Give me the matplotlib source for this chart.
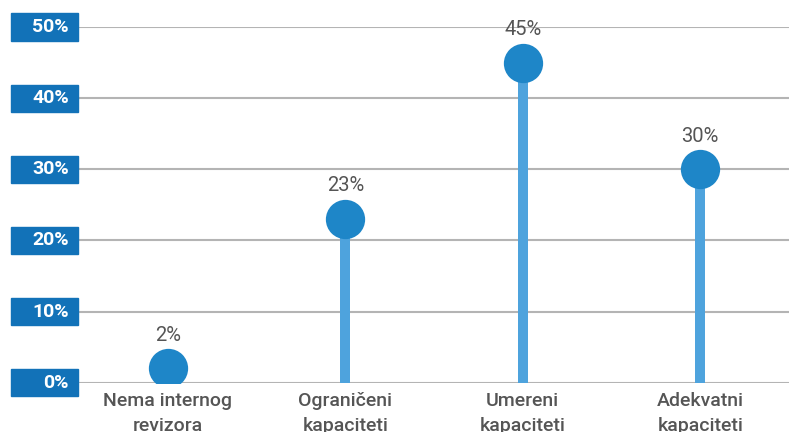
import matplotlib.pyplot as plt
from matplotlib.patches import Rectangle

plt.rcParams['font.family'] = ['Roboto', 'DejaVu Sans']

# kapaciteti interne revizije
kategorije = ['Nema internog\nrevizora', 'Ograničeni\nkapaciteti',
              'Umereni\nkapaciteti', 'Adekvatni\nkapaciteti']
procenti = [2, 23, 45, 30]
yticks = [0, 10, 20, 30, 40, 50]

stem_boja = '#4ea3dd'
krug_boja = '#1e86c8'
box_boja = '#1272b8'
siva = '#555555'

fig = plt.figure(figsize=(7.89, 4.32), dpi=100)
ax = fig.add_axes([79 / 789, 49.3 / 432, 710 / 789, 355.7 / 432])

x = range(len(kategorije))
ax.set_xlim(-0.5, 3.5)
ax.set_ylim(0, 50)

# mreza
for t in yticks:
    ax.axhline(t, color='#b4b4b4', lw=1.5, zorder=1)

# stabla i krugovi
ax.bar(x, procenti, width=0.056, color=stem_boja, zorder=2)
ax.scatter(x, procenti, s=800, color=krug_boja, zorder=3, linewidths=0)
for xi, v in zip(x, procenti):
    ax.annotate(f'{v}%', (xi, v), xytext=(0, 17), textcoords='offset points',
                ha='center', va='bottom', fontsize=14.5, color=siva)

# oznake y ose u plavim kutijama
tr = ax.get_yaxis_transform()
for t in yticks:
    ax.add_patch(Rectangle((-68 / 710, t - 1.9), 67 / 710, 3.8, transform=tr,
                           color=box_boja, clip_on=False, zorder=4))
    ax.text(-10 / 710, t, f'{t}%', transform=tr, ha='right', va='center',
            color='white', fontsize=14, fontweight='bold', zorder=5)

ax.set_xticks(list(x))
ax.set_xticklabels(kategorije, fontsize=14, color=siva, fontweight='medium',
                   linespacing=1.45)
ax.tick_params(axis='x', length=0, pad=7)
ax.set_yticks([])
for s in ax.spines.values():
    s.set_visible(False)

fig.savefig('out.png', dpi=100)
